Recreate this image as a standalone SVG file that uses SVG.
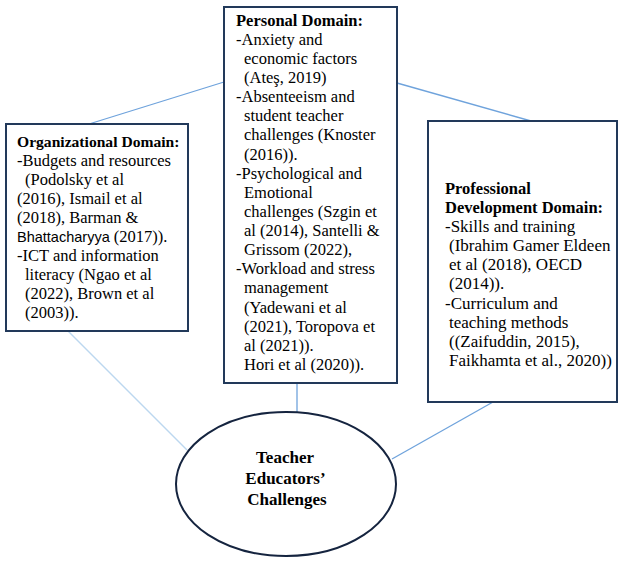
<svg xmlns="http://www.w3.org/2000/svg" width="624" height="563" viewBox="0 0 624 563">
<style>
.box{fill:#fff;stroke:#22395a;stroke-width:2}
.ell{fill:#fff;stroke:#15243f;stroke-width:2}
.ln{stroke:#6fa3dc;stroke-width:1.3;fill:none}
.lp{stroke:#bcd7ef;stroke-width:1.5;fill:none}
</style>
<rect width="624" height="563" fill="#fff"/>
<g id="connectors">
<line class="ln" x1="89" y1="124" x2="224" y2="82"/>
<line class="ln" x1="397" y1="83" x2="531" y2="121"/>
<line class="ln" x1="297" y1="383" x2="297" y2="412"/>
<line class="lp" x1="68" y1="331" x2="187" y2="450"/>
<line class="ln" x1="493" y1="402" x2="392" y2="459"/>
</g>
<g id="organizational">
<rect class="box" x="6" y="124" width="182" height="207"/>
<text font-family="Liberation Serif, Times New Roman, serif" font-size="16.5" fill="#000">
<tspan font-weight="bold" font-size="15.6" x="17" y="147">Organizational Domain:</tspan>
<tspan x="17" y="166">-Budgets and resources</tspan>
<tspan x="25" y="185">(Podolsky et al</tspan>
<tspan x="17" y="204">(2016), Ismail et al</tspan>
<tspan x="17" y="223">(2018), Barman &amp;</tspan>
<tspan x="17" y="242"><tspan font-family="Liberation Sans, Arial, sans-serif" font-size="14.5">Bhattacharyya</tspan> (2017)).</tspan>
<tspan x="17" y="261">-ICT and information</tspan>
<tspan x="25" y="280">literacy (Ngao et al</tspan>
<tspan x="25" y="299">(2022), Brown et al</tspan>
<tspan x="25" y="318">(2003)).</tspan>
</text>
</g>
<g id="personal">
<rect class="box" x="224" y="7" width="173" height="376"/>
<text font-family="Liberation Serif, Times New Roman, serif" font-size="16.5" fill="#000">
<tspan font-weight="bold" x="236" y="26">Personal Domain:</tspan>
<tspan x="236" y="45">-Anxiety and</tspan>
<tspan x="244" y="64">economic factors</tspan>
<tspan x="244" y="83">(Ateş, 2019)</tspan>
<tspan x="236" y="102">-Absenteeism and</tspan>
<tspan x="244" y="121">student teacher</tspan>
<tspan x="244" y="140">challenges (Knoster</tspan>
<tspan x="244" y="160">(2016)).</tspan>
<tspan x="236" y="179">-Psychological and</tspan>
<tspan x="244" y="198">Emotional</tspan>
<tspan x="244" y="217">challenges (Szgin et</tspan>
<tspan x="244" y="236">al (2014), Santelli &amp;</tspan>
<tspan x="244" y="255">Grissom (2022),</tspan>
<tspan x="236" y="274">-Workload and stress</tspan>
<tspan x="244" y="293">management</tspan>
<tspan x="244" y="313">(Yadewani et al</tspan>
<tspan x="244" y="332">(2021), Toropova et</tspan>
<tspan x="244" y="351">al (2021)).</tspan>
<tspan x="244" y="370">Hori et al (2020)).</tspan>
</text>
</g>
<g id="professional">
<rect class="box" x="428" y="121" width="189" height="281"/>
<text font-family="Liberation Serif, Times New Roman, serif" font-size="17" fill="#000">
<tspan font-weight="bold" font-size="16.5" x="445" y="194">Professional</tspan>
<tspan font-weight="bold" font-size="16.5" x="445" y="213">Development Domain:</tspan>
<tspan x="445" y="232">-Skills and training</tspan>
<tspan x="449" y="251">(Ibrahim Gamer Eldeen</tspan>
<tspan x="449" y="270">et al (2018), OECD</tspan>
<tspan x="449" y="289">(2014)).</tspan>
<tspan x="445" y="309">-Curriculum and</tspan>
<tspan x="449" y="328">teaching methods</tspan>
<tspan x="449" y="347">((Zaifuddin, 2015),</tspan>
<tspan x="449" y="366">Faikhamta et al., 2020))</tspan>
</text>
</g>
<g id="challenges">
<ellipse class="ell" cx="286" cy="484" rx="110" ry="72"/>
<text font-family="Liberation Serif, Times New Roman, serif" font-size="17" font-weight="bold" fill="#000" text-anchor="middle">
<tspan x="287" y="463">Teacher</tspan>
<tspan x="287" y="484">Educators’</tspan>
<tspan x="287" y="505">Challenges</tspan>
</text>
</g>
</svg>
